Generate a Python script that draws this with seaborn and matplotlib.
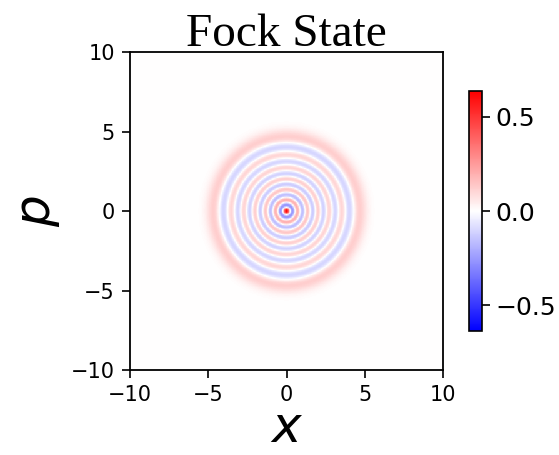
import numpy as np
import pandas as pd
import matplotlib
matplotlib.use("Agg")
import matplotlib.pyplot as plt
import seaborn as sns
from numpy.polynomial import laguerre

# Phase-space window and the Fock state shown
fock_n = 12
x_limits = [-10, 10]
p_limits = [-10, 10]
axis_ticks = [-10, -5, 0, 5, 10]
cbar_ticks = [-0.5, 0.0, 0.5]
color_limit = 0.637
grid_points = 501

xs = np.linspace(x_limits[0], x_limits[1], grid_points)
ps = np.linspace(p_limits[1], p_limits[0], grid_points)  # top row = +p
X, P = np.meshgrid(xs, ps)
r2 = X**2 + P**2

# Wigner function of |n>: (-1)^n exp(-r^2) L_n(2 r^2), scaled to +-2/pi
coef = np.zeros(fock_n + 1)
coef[fock_n] = 1.0
W = (-1) ** fock_n * (2 / np.pi) * np.exp(-r2) * laguerre.lagval(2 * r2, coef)

wigner = pd.DataFrame(W, index=ps, columns=xs)

sns.set_theme(style="white")
plt.rcParams["font.family"] = ["DejaVu Sans"]
plt.rcParams["text.color"] = "black"
plt.rcParams["axes.labelcolor"] = "black"
plt.rcParams["xtick.color"] = "black"
plt.rcParams["ytick.color"] = "black"

fig = plt.figure(figsize=(5.59, 4.55), dpi=100)
ax = fig.add_axes([0.2326, 0.1868, 0.5599, 0.6989])
cax = fig.add_axes([0.839, 0.2725, 0.0233, 0.5275])

sns.heatmap(wigner, ax=ax, cbar_ax=cax, cmap="bwr",
            vmin=-color_limit, vmax=color_limit,
            xticklabels=False, yticklabels=False, rasterized=True,
            cbar_kws={"ticks": cbar_ticks})

# map data coordinates onto heatmap cell positions
def to_col(v):
    return (v - x_limits[0]) / (x_limits[1] - x_limits[0]) * grid_points

def to_row(v):
    return (p_limits[1] - v) / (p_limits[1] - p_limits[0]) * grid_points

ax.set_xticks([to_col(t) for t in axis_ticks])
ax.set_xticklabels([f"{t}".replace("-", "\u2212") for t in axis_ticks])
ax.set_yticks([to_row(t) for t in axis_ticks])
ax.set_yticklabels([f"{t}".replace("-", "\u2212") for t in axis_ticks], rotation=0)
ax.tick_params(axis="both", which="major", labelsize=15, length=6, width=1.2,
               color="black", labelcolor="black", bottom=True, left=True, pad=5)
for s in ax.spines.values():
    s.set_visible(True)
    s.set_color("black")
    s.set_linewidth(1.3)

ax.set_xlabel("$x$", fontsize=36, labelpad=-1, color="black")
ax.set_ylabel("$p$", fontsize=36, labelpad=6, color="black")
ax.set_title("Fock State", fontsize=34, family=["Liberation Serif", "DejaVu Serif"],
             pad=4, color="black")

cax.tick_params(labelsize=18, length=6, width=1.2, color="black",
                labelcolor="black", right=True)
cax.set_yticklabels([f"{t:.1f}".replace("-", "\u2212") for t in cbar_ticks])
cbar = ax.collections[0].colorbar
cbar.outline.set_visible(True)
cbar.outline.set_edgecolor("black")
cbar.outline.set_linewidth(1.2)

fig.savefig("out.png", dpi=100)
